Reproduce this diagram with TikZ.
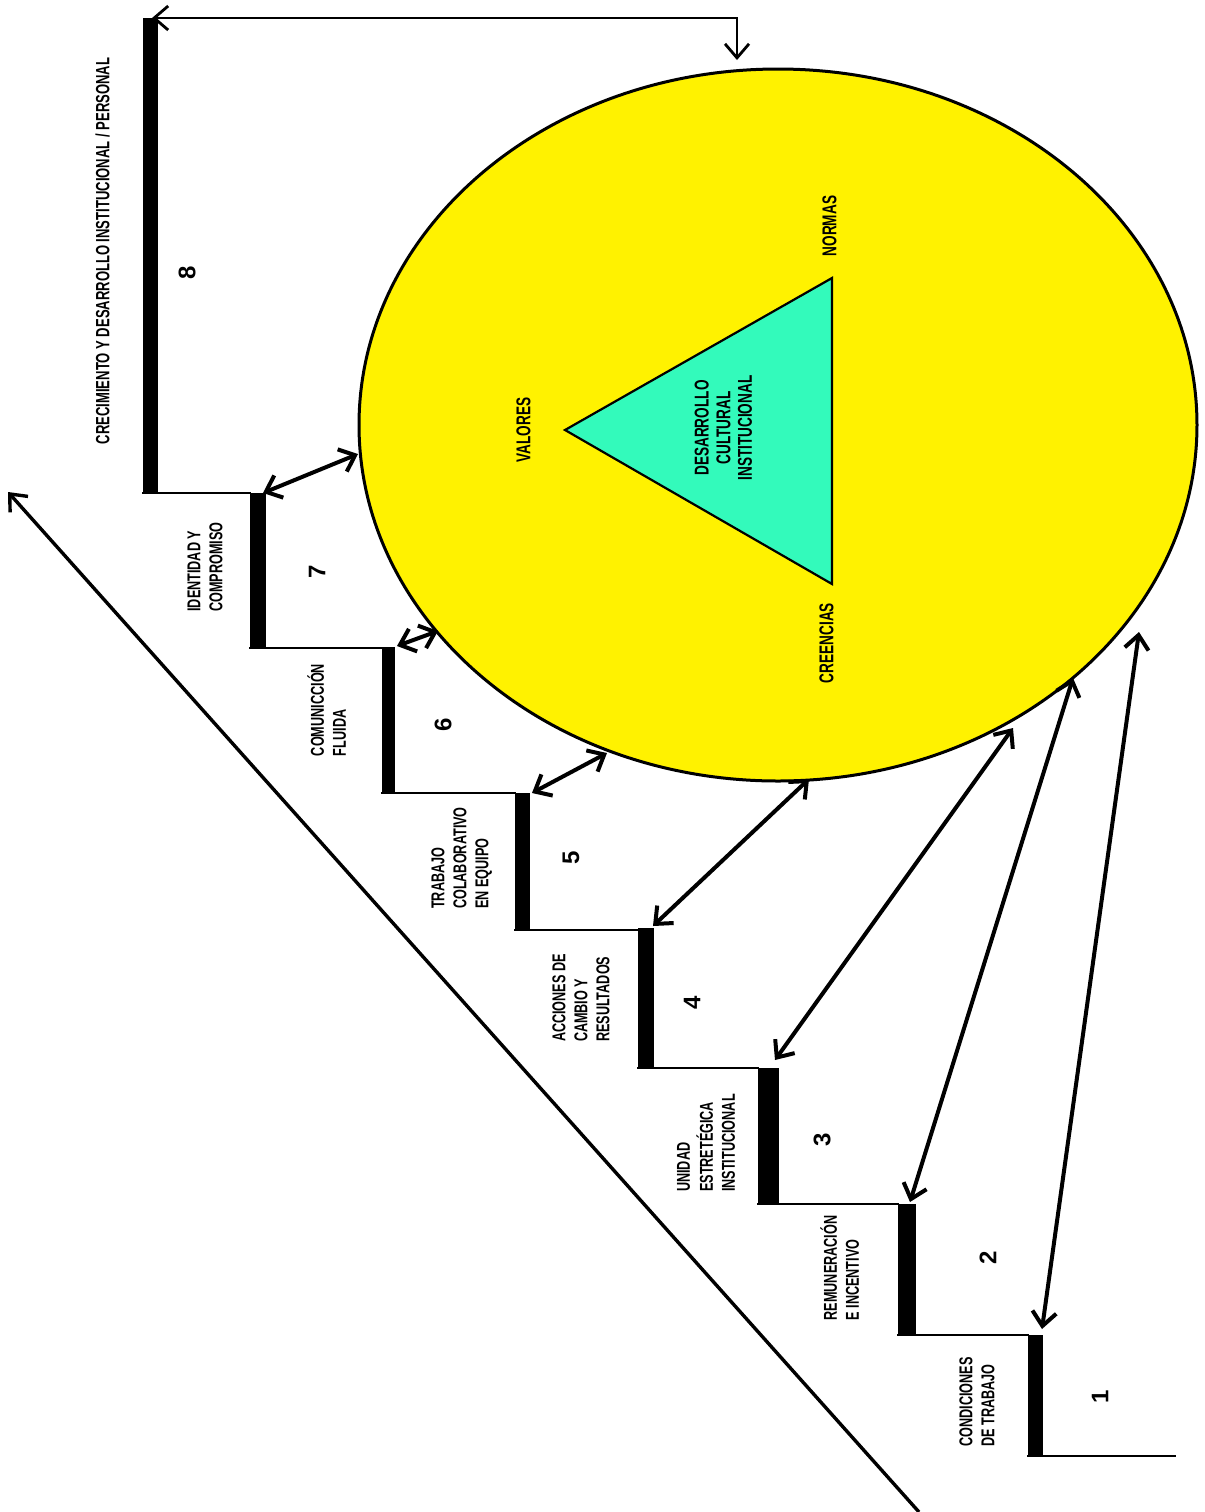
\documentclass[tikz,border=0pt]{standalone}
\usepackage{fontspec}
\usepackage{graphicx}
\setmainfont{Liberation Sans}
\usetikzlibrary{arrows.meta,shapes.geometric}
\definecolor{discyel}{RGB}{255,242,0}
\definecolor{trigreen}{RGB}{51,250,187}
\newcommand\sqzl[1]{\scalebox{0.68}[1]{\begin{tabular}{@{}l@{}}#1\end{tabular}}}
\newcommand\sqzc[1]{\scalebox{0.68}[1]{\begin{tabular}{@{}c@{}}#1\end{tabular}}}
\tikzset{
  lbl/.style={rotate=90, inner sep=0, font=\bfseries\fontsize{9.3}{11}\selectfont},
  biglbl/.style={rotate=90, inner sep=0, font=\bfseries\fontsize{9.6}{11}\selectfont},
  innerlbl/.style={rotate=90, inner sep=0, font=\bfseries\fontsize{10}{10.8}\selectfont},
  num/.style={rotate=90, inner sep=0, font=\bfseries\fontsize{12}{14}\selectfont},
  bar/.style={fill=black},
  tread/.style={line width=1pt, line cap=rect},
  dbl/.style={<->, line width=2pt},
  single/.style={->, line width=1.7pt},
}
\begin{document}
\begin{tikzpicture}[x=0.5pt, y=-0.5pt, >={Straight Barb[length=7pt,width=12pt]}]
\useasboundingbox (0,0) rectangle (1205,1512);
\fill[white] (0,0) rectangle (1205,1512);

% disc
\node[name=disc, ellipse, draw=black, line width=1.5pt, fill=discyel, inner sep=0,
      minimum width=419pt, minimum height=356pt] at (778,425) {};

% triangle
\coordinate (tv) at (565,430);
\coordinate (tn) at (832,278);
\coordinate (tc) at (832,584);
\draw[line width=1.1pt, fill=trigreen, line join=miter] (tv) -- (tn) -- (tc) -- cycle;
\node[innerlbl] (tlabel) at (726,428) {\sqzc{DESARROLLO\\CULTURAL\\INSTITUCIONAL}};
\node[innerlbl] (valores) at (526,430) {\sqzc{VALORES}};
\node[innerlbl] (normas) at (832,226) {\sqzc{NORMAS}};
\node[innerlbl] (creencias) at (829,643) {\sqzc{CREENCIAS}};

% treads
\draw[tread] (143,493) -- (250,493);
\draw[tread] (250,648) -- (382,648);
\draw[tread] (382,793) -- (515,793);
\draw[tread] (515,930) -- (638,930);
\draw[tread] (638,1068) -- (758,1068);
\draw[tread] (758,1204) -- (898,1204);
\draw[tread] (898,1335) -- (1028,1335);
\draw[tread] (1028,1456) -- (1175,1456);

% risers
\fill[bar] (143,18) rectangle (158,493);
\fill[bar] (250,493) rectangle (266,648);
\fill[bar] (382,647) rectangle (395,793);
\fill[bar] (515,793) rectangle (530,931);
\fill[bar] (638,928) rectangle (654,1068);
\fill[bar] (758,1068) rectangle (779,1204);
\fill[bar] (898,1204) rectangle (916,1336);
\fill[bar] (1028,1335) rectangle (1043,1456);

% step labels
\node[biglbl] (l8) at (105,251) {\sqzl{CRECIMIENTO Y DESARROLLO INSTITUCIONAL / PERSONAL}};
\node[lbl] (l7) at (207,567) {\sqzl{IDENTIDAD Y\\COMPROMISO}};
\node[lbl] (l6) at (330,710) {\sqzl{COMUNICCIÓN\\FLUIDA}};
\node[lbl] (l5) at (462,858) {\sqzl{TRABAJO\\COLABORATIVO\\EN EQUIPO}};
\node[lbl] (l4) at (583,998) {\sqzl{ACCIONES DE\\CAMBIO Y\\RESULTADOS}};
\node[lbl] (l3) at (708,1143) {\sqzl{UNIDAD\\ESTRETÉGICA\\INSTITUCIONAL}};
\node[lbl] (l2) at (843,1268) {\sqzl{REMUNERACIÓN\\E INCENTIVO}};
\node[lbl] (l1) at (979,1402) {\sqzl{CONDICIONES\\DE TRABAJO}};

\node[num] (n8) at (187,273) {8};
\node[num] (n7) at (317,572) {7};
\node[num] (n6) at (443,725) {6};
\node[num] (n5) at (571,858) {5};
\node[num] (n4) at (692,1003) {4};
\node[num] (n3) at (822,1140) {3};
\node[num] (n2) at (988,1258) {2};
\node[num] (n1) at (1100,1397) {1};

% connector end points
\coordinate (s8) at (152,18);
\coordinate (bend) at (737,18);
\coordinate (etop) at (737,60);
\coordinate (s7) at (263,493);
\coordinate (s6) at (397,646);
\coordinate (s5) at (532,793);
\coordinate (s4) at (653,926);
\coordinate (s3) at (775,1060);
\coordinate (s2) at (910,1202);
\coordinate (s1) at (1042,1329);
\coordinate (e7) at (358,454);
\coordinate (e6) at (438,631);
\coordinate (e5) at (607,753);
\coordinate (e4) at (809,779);
\coordinate (e3) at (1013,728);
\coordinate (e2) at (1073,678);
\coordinate (e1) at (1139,632);

\draw[<->, line width=1.4pt] (s8) -- (bend) -- (etop);
\draw[dbl] (s7) -- (e7);
\draw[dbl] (s6) -- (e6);
\draw[dbl] (s5) -- (e5);
\draw[dbl] (s4) -- (e4);
\draw[dbl] (s3) -- (e3);
\draw[dbl] (s2) -- (e2);
\draw[dbl] (s1) -- (e1);

% diagonal arrow
\coordinate (dstart) at (919,1512);
\coordinate (dtip) at (8,492);
\draw[single] (dstart) -- (dtip);
\end{tikzpicture}
\end{document}
